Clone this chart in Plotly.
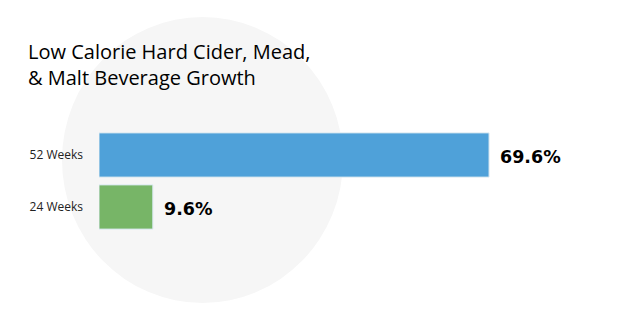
import plotly.graph_objects as go

categories = ["24 Weeks", "52 Weeks"]
values = [9.6, 69.6]
colors = ["#77b567", "#4fa1d9"]
labels = [f"{v:.1f}%" for v in values]

W, H = 628, 327
ml, mr, mt, mb = 99, 28, 129, 94
pw = W - ml - mr
ph = H - mt - mb

def px_x(p):
    return (p - ml) / pw

def px_y(p):
    return (H - mb - p) / ph

fig = go.Figure()
fig.add_trace(go.Bar(
    y=categories, x=values, orientation="h",
    marker=dict(color=colors, line=dict(color="#d8e8f0", width=1)),
    width=0.85, hoverinfo="skip",
))

for c, v, t in zip(categories, values, labels):
    fig.add_annotation(x=v, y=c, xref="x", yref="y", text=f"<b>{t}</b>",
                       showarrow=False, xanchor="left", xshift=9, yshift=-2,
                       font=dict(family="DejaVu Sans", size=17.5, color="#000"))

fig.add_shape(type="circle", xref="paper", yref="paper",
              x0=px_x(62), x1=px_x(343), y0=px_y(303), y1=px_y(17),
              fillcolor="#f6f6f6", line=dict(width=0), layer="below")

fig.update_layout(
    width=W, height=H,
    margin=dict(l=ml, r=mr, t=mt, b=mb),
    paper_bgcolor="white", plot_bgcolor="rgba(0,0,0,0)",
    showlegend=False,
    title=dict(text="Low Calorie Hard Cider, Mead,<br>& Malt Beverage Growth",
               x=28 / W, xanchor="left", xref="container",
               y=1 - 59 / H, yanchor="top", yref="container",
               font=dict(family="Open Sans", size=20, color="#000")),
    xaxis=dict(range=[0, 89.4], visible=False, fixedrange=True),
    yaxis=dict(range=[-0.5, 1.5], showgrid=False, zeroline=False, showline=False,
               ticks="", ticklabelstandoff=15,
               tickfont=dict(family="Open Sans", size=12, color="#222")),
)

fig.write_html("out.html")
